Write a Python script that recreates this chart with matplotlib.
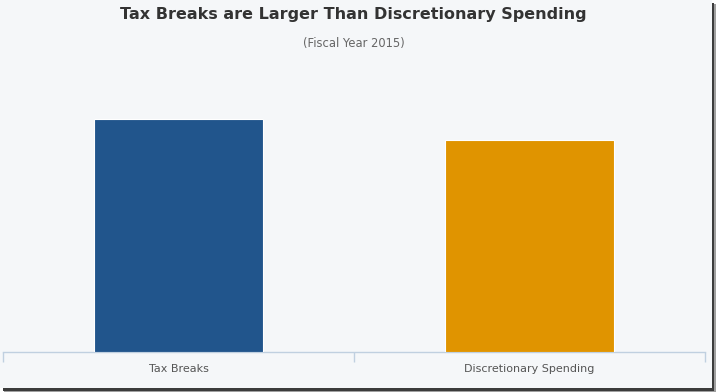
import matplotlib
matplotlib.use("Agg")
import matplotlib.pyplot as plt
from matplotlib.patches import Rectangle

categories = ["Tax Breaks", "Discretionary Spending"]
values = [1220, 1110]
colors = ["#21558C", "#E09400"]
title = "Tax Breaks are Larger Than Discretionary Spending"
subtitle = "(Fiscal Year 2015)"

W, H = 716, 392
fig = plt.figure(figsize=(W / 100, H / 100), dpi=100, facecolor="white")

# screenshot frame with shadow
fig.patches.append(Rectangle((4 / W, 0), 712 / W, (H - 4) / H, transform=fig.transFigure,
                             facecolor="#A0A0A0", edgecolor="none", zorder=0))
fig.patches.append(Rectangle((3 / W, 1 / H), 711 / W, (H - 4) / H, transform=fig.transFigure,
                             facecolor="#3C3C3C", edgecolor="none", zorder=0.5))
fig.patches.append(Rectangle((0, 4 / H), 712 / W, (H - 4) / H, transform=fig.transFigure,
                             facecolor="#F5F7F9", edgecolor="none", zorder=1))

ax_left, ax_right = 3, 705
ax_bottom = 352
ymax = 1500
px_per_unit = 233 / 1220
ax_top = ax_bottom - ymax * px_per_unit
ax = fig.add_axes([ax_left / W, (H - ax_bottom) / H, (ax_right - ax_left) / W, (ax_bottom - ax_top) / H])
ax.set_facecolor("none")
ax.set_zorder(2)

x = list(range(len(categories)))
ax.bar(x, values, width=0.48, color=colors, edgecolor="white", linewidth=0.8, zorder=3)

ax.set_xlim(-0.5, len(categories) - 0.5)
ax.set_ylim(0, ymax)
for s in ["top", "right", "left"]:
    ax.spines[s].set_visible(False)
ax.spines["bottom"].set_color("#C0D0E0")
ax.spines["bottom"].set_linewidth(1)
ax.set_yticks([])
ax.set_xticks([i - 0.5 for i in range(len(categories) + 1)])
ax.set_xticklabels([])
ax.tick_params(axis="x", which="major", length=7.2, color="#C0D0E0", width=1, direction="out")
ax.set_xticks(x, minor=True)
ax.set_xticklabels(categories, minor=True)
ax.tick_params(axis="x", which="minor", length=0, pad=9, labelsize=8, labelcolor="#555555")

fig.text(353 / W, 1 - 14 / H, title, ha="center", va="center", fontsize=11.5,
         fontweight="bold", color="#333333", zorder=5)
fig.text(354 / W, 1 - 44 / H, subtitle, ha="center", va="center", fontsize=8.3,
         color="#666666", zorder=5)

fig.savefig("out.png", dpi=100, facecolor=fig.get_facecolor())
